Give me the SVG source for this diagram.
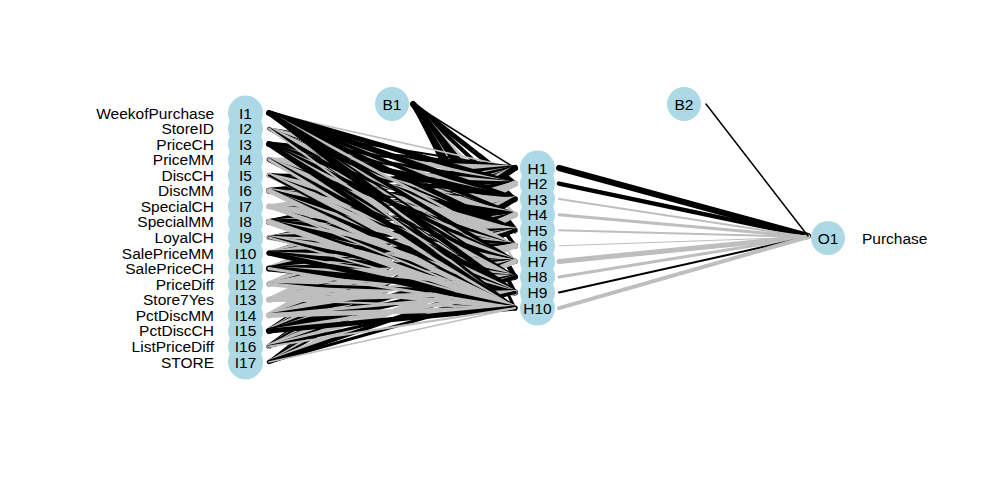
<svg xmlns="http://www.w3.org/2000/svg" width="983" height="495" viewBox="0 0 983 495">
<style>
.k{stroke:#000000;fill:none;stroke-linecap:round}
.g{stroke:#bebebe;fill:none;stroke-linecap:round}
.n{fill:#add8e6}
.t{font-family:"Liberation Sans",Arial,sans-serif;font-size:15.5px;fill:#000}
.r{text-anchor:end}
.m{text-anchor:middle}
</style>
<rect width="983" height="495" fill="#ffffff"/>
<g id="connectors">
<!-- B1 to hidden -->
<path class="k" stroke-width="1.5" d="M413 104L515 168"/>
<path class="k" stroke-width="5" d="M413 104L515 183.6"/>
<path class="k" stroke-width="4" d="M413 104L515 199.1"/>
<path class="g" stroke-width="3" d="M413 104L515 214.7"/>
<path class="k" stroke-width="6" d="M413 104L515 230.3"/>
<path class="k" stroke-width="4" d="M413 104L515 245.8"/>
<path class="g" stroke-width="2" d="M413 104L515 261.4"/>
<path class="k" stroke-width="5" d="M413 104L515 276.9"/>
<path class="k" stroke-width="4" d="M413 104L515 292.5"/>
<path class="k" stroke-width="3" d="M413 104L515 308.1"/>
<!-- to H1 -->
<path class="g" stroke-width="1.5" d="M269 113L515 168"/>
<path class="k" stroke-width="2" d="M269 128.6L515 168"/>
<path class="k" stroke-width="5" d="M269 144.1L515 168"/>
<path class="g" stroke-width="5" d="M269 159.7L515 168"/>
<path class="g" stroke-width="3" d="M269 175.3L515 168"/>
<path class="k" stroke-width="6" d="M269 190.8L515 168"/>
<path class="g" stroke-width="4" d="M269 206.4L515 168"/>
<path class="k" stroke-width="5" d="M269 221.9L515 168"/>
<path class="g" stroke-width="2" d="M269 237.5L515 168"/>
<path class="k" stroke-width="3" d="M269 253.1L515 168"/>
<path class="k" stroke-width="4" d="M269 268.6L515 168"/>
<path class="g" stroke-width="5" d="M269 284.2L515 168"/>
<path class="g" stroke-width="3" d="M269 299.8L515 168"/>
<path class="g" stroke-width="5" d="M269 315.3L515 168"/>
<path class="k" stroke-width="6" d="M269 330.9L515 168"/>
<path class="k" stroke-width="5" d="M269 346.4L515 168"/>
<path class="k" stroke-width="3" d="M269 362L515 168"/>
<!-- to H2 -->
<path class="k" stroke-width="5" d="M269 113L515 183.6"/>
<path class="g" stroke-width="3" d="M269 128.6L515 183.6"/>
<path class="k" stroke-width="4" d="M269 144.1L515 183.6"/>
<path class="g" stroke-width="4" d="M269 159.7L515 183.6"/>
<path class="k" stroke-width="4" d="M269 175.3L515 183.6"/>
<path class="k" stroke-width="5" d="M269 190.8L515 183.6"/>
<path class="g" stroke-width="3" d="M269 206.4L515 183.6"/>
<path class="k" stroke-width="6" d="M269 221.9L515 183.6"/>
<path class="k" stroke-width="3" d="M269 237.5L515 183.6"/>
<path class="g" stroke-width="5" d="M269 253.1L515 183.6"/>
<path class="g" stroke-width="6" d="M269 268.6L515 183.6"/>
<path class="g" stroke-width="3" d="M269 284.2L515 183.6"/>
<path class="g" stroke-width="5" d="M269 299.8L515 183.6"/>
<path class="g" stroke-width="6" d="M269 315.3L515 183.6"/>
<path class="g" stroke-width="5" d="M269 330.9L515 183.6"/>
<path class="g" stroke-width="4" d="M269 346.4L515 183.6"/>
<path class="g" stroke-width="2" d="M269 362L515 183.6"/>
<!-- to H3 -->
<path class="k" stroke-width="6" d="M269 113L515 199.1"/>
<path class="g" stroke-width="2" d="M269 128.6L515 199.1"/>
<path class="k" stroke-width="6" d="M269 144.1L515 199.1"/>
<path class="k" stroke-width="2" d="M269 159.7L515 199.1"/>
<path class="g" stroke-width="2" d="M269 175.3L515 199.1"/>
<path class="g" stroke-width="3" d="M269 190.8L515 199.1"/>
<path class="g" stroke-width="5" d="M269 206.4L515 199.1"/>
<path class="g" stroke-width="4" d="M269 221.9L515 199.1"/>
<path class="g" stroke-width="4" d="M269 237.5L515 199.1"/>
<path class="k" stroke-width="2" d="M269 253.1L515 199.1"/>
<path class="g" stroke-width="3" d="M269 268.6L515 199.1"/>
<path class="g" stroke-width="6" d="M269 284.2L515 199.1"/>
<path class="g" stroke-width="4" d="M269 299.8L515 199.1"/>
<path class="g" stroke-width="4" d="M269 315.3L515 199.1"/>
<path class="k" stroke-width="5" d="M269 330.9L515 199.1"/>
<path class="k" stroke-width="5" d="M269 346.4L515 199.1"/>
<path class="k" stroke-width="4" d="M269 362L515 199.1"/>
<!-- to H4 -->
<path class="k" stroke-width="4" d="M269 113L515 214.7"/>
<path class="k" stroke-width="1" d="M269 128.6L515 214.7"/>
<path class="g" stroke-width="3" d="M269 144.1L515 214.7"/>
<path class="g" stroke-width="6" d="M269 159.7L515 214.7"/>
<path class="k" stroke-width="5" d="M269 175.3L515 214.7"/>
<path class="k" stroke-width="4" d="M269 190.8L515 214.7"/>
<path class="k" stroke-width="2" d="M269 206.4L515 214.7"/>
<path class="k" stroke-width="5" d="M269 221.9L515 214.7"/>
<path class="g" stroke-width="2" d="M269 237.5L515 214.7"/>
<path class="g" stroke-width="4" d="M269 253.1L515 214.7"/>
<path class="k" stroke-width="5" d="M269 268.6L515 214.7"/>
<path class="k" stroke-width="2" d="M269 284.2L515 214.7"/>
<path class="g" stroke-width="3" d="M269 299.8L515 214.7"/>
<path class="g" stroke-width="5" d="M269 315.3L515 214.7"/>
<path class="g" stroke-width="6" d="M269 330.9L515 214.7"/>
<path class="g" stroke-width="3" d="M269 346.4L515 214.7"/>
<path class="g" stroke-width="3" d="M269 362L515 214.7"/>
<!-- to H5 -->
<path class="k" stroke-width="5" d="M269 113L515 230.3"/>
<path class="k" stroke-width="2" d="M269 128.6L515 230.3"/>
<path class="k" stroke-width="5" d="M269 144.1L515 230.3"/>
<path class="g" stroke-width="3" d="M269 159.7L515 230.3"/>
<path class="g" stroke-width="4" d="M269 175.3L515 230.3"/>
<path class="g" stroke-width="6" d="M269 190.8L515 230.3"/>
<path class="g" stroke-width="4" d="M269 206.4L515 230.3"/>
<path class="g" stroke-width="3" d="M269 221.9L515 230.3"/>
<path class="k" stroke-width="5" d="M269 237.5L515 230.3"/>
<path class="g" stroke-width="3" d="M269 253.1L515 230.3"/>
<path class="k" stroke-width="4" d="M269 268.6L515 230.3"/>
<path class="g" stroke-width="4" d="M269 284.2L515 230.3"/>
<path class="k" stroke-width="2" d="M269 299.8L515 230.3"/>
<path class="k" stroke-width="3" d="M269 315.3L515 230.3"/>
<path class="k" stroke-width="4" d="M269 330.9L515 230.3"/>
<path class="k" stroke-width="3" d="M269 346.4L515 230.3"/>
<path class="k" stroke-width="2" d="M269 362L515 230.3"/>
<!-- to H6 -->
<path class="g" stroke-width="3" d="M269 113L515 245.8"/>
<path class="g" stroke-width="4" d="M269 128.6L515 245.8"/>
<path class="g" stroke-width="2" d="M269 144.1L515 245.8"/>
<path class="k" stroke-width="3" d="M269 159.7L515 245.8"/>
<path class="g" stroke-width="3" d="M269 175.3L515 245.8"/>
<path class="k" stroke-width="3" d="M269 190.8L515 245.8"/>
<path class="g" stroke-width="6" d="M269 206.4L515 245.8"/>
<path class="k" stroke-width="6" d="M269 221.9L515 245.8"/>
<path class="g" stroke-width="3" d="M269 237.5L515 245.8"/>
<path class="k" stroke-width="5" d="M269 253.1L515 245.8"/>
<path class="g" stroke-width="3" d="M269 268.6L515 245.8"/>
<path class="g" stroke-width="5" d="M269 284.2L515 245.8"/>
<path class="g" stroke-width="6" d="M269 299.8L515 245.8"/>
<path class="g" stroke-width="5" d="M269 315.3L515 245.8"/>
<path class="g" stroke-width="3" d="M269 330.9L515 245.8"/>
<path class="g" stroke-width="5" d="M269 346.4L515 245.8"/>
<path class="g" stroke-width="1" d="M269 362L515 245.8"/>
<!-- to H7 -->
<path class="k" stroke-width="4" d="M269 113L515 261.4"/>
<path class="g" stroke-width="1" d="M269 128.6L515 261.4"/>
<path class="k" stroke-width="4" d="M269 144.1L515 261.4"/>
<path class="g" stroke-width="5" d="M269 159.7L515 261.4"/>
<path class="k" stroke-width="2" d="M269 175.3L515 261.4"/>
<path class="k" stroke-width="5" d="M269 190.8L515 261.4"/>
<path class="g" stroke-width="3" d="M269 206.4L515 261.4"/>
<path class="g" stroke-width="4" d="M269 221.9L515 261.4"/>
<path class="k" stroke-width="2" d="M269 237.5L515 261.4"/>
<path class="g" stroke-width="3" d="M269 253.1L515 261.4"/>
<path class="k" stroke-width="5" d="M269 268.6L515 261.4"/>
<path class="g" stroke-width="3" d="M269 284.2L515 261.4"/>
<path class="g" stroke-width="4" d="M269 299.8L515 261.4"/>
<path class="g" stroke-width="6" d="M269 315.3L515 261.4"/>
<path class="k" stroke-width="5" d="M269 330.9L515 261.4"/>
<path class="k" stroke-width="2" d="M269 346.4L515 261.4"/>
<path class="g" stroke-width="5" d="M269 362L515 261.4"/>
<!-- to H8 -->
<path class="k" stroke-width="2" d="M269 113L515 276.9"/>
<path class="k" stroke-width="3" d="M269 128.6L515 276.9"/>
<path class="g" stroke-width="2" d="M269 144.1L515 276.9"/>
<path class="g" stroke-width="2" d="M269 159.7L515 276.9"/>
<path class="g" stroke-width="3" d="M269 175.3L515 276.9"/>
<path class="g" stroke-width="2" d="M269 190.8L515 276.9"/>
<path class="k" stroke-width="1" d="M269 206.4L515 276.9"/>
<path class="k" stroke-width="5" d="M269 221.9L515 276.9"/>
<path class="g" stroke-width="5" d="M269 237.5L515 276.9"/>
<path class="k" stroke-width="4" d="M269 253.1L515 276.9"/>
<path class="g" stroke-width="4" d="M269 268.6L515 276.9"/>
<path class="g" stroke-width="2" d="M269 284.2L515 276.9"/>
<path class="g" stroke-width="3" d="M269 299.8L515 276.9"/>
<path class="k" stroke-width="4" d="M269 315.3L515 276.9"/>
<path class="k" stroke-width="6" d="M269 330.9L515 276.9"/>
<path class="g" stroke-width="4" d="M269 346.4L515 276.9"/>
<path class="k" stroke-width="4" d="M269 362L515 276.9"/>
<!-- to H9 -->
<path class="k" stroke-width="5" d="M269 113L515 292.5"/>
<path class="k" stroke-width="1" d="M269 128.6L515 292.5"/>
<path class="k" stroke-width="3" d="M269 144.1L515 292.5"/>
<path class="k" stroke-width="4" d="M269 159.7L515 292.5"/>
<path class="g" stroke-width="5" d="M269 175.3L515 292.5"/>
<path class="k" stroke-width="4" d="M269 190.8L515 292.5"/>
<path class="g" stroke-width="4" d="M269 206.4L515 292.5"/>
<path class="k" stroke-width="3" d="M269 221.9L515 292.5"/>
<path class="k" stroke-width="3" d="M269 237.5L515 292.5"/>
<path class="g" stroke-width="2" d="M269 253.1L515 292.5"/>
<path class="k" stroke-width="6" d="M269 268.6L515 292.5"/>
<path class="k" stroke-width="3" d="M269 284.2L515 292.5"/>
<path class="g" stroke-width="5" d="M269 299.8L515 292.5"/>
<path class="g" stroke-width="3" d="M269 315.3L515 292.5"/>
<path class="g" stroke-width="4" d="M269 330.9L515 292.5"/>
<path class="k" stroke-width="3" d="M269 346.4L515 292.5"/>
<path class="k" stroke-width="3" d="M269 362L515 292.5"/>
<!-- to H10 -->
<path class="k" stroke-width="3" d="M269 113L515 308.1"/>
<path class="g" stroke-width="2" d="M269 128.6L515 308.1"/>
<path class="k" stroke-width="5" d="M269 144.1L515 308.1"/>
<path class="g" stroke-width="3" d="M269 159.7L515 308.1"/>
<path class="k" stroke-width="2" d="M269 175.3L515 308.1"/>
<path class="g" stroke-width="5" d="M269 190.8L515 308.1"/>
<path class="g" stroke-width="2" d="M269 206.4L515 308.1"/>
<path class="g" stroke-width="6" d="M269 221.9L515 308.1"/>
<path class="g" stroke-width="2" d="M269 237.5L515 308.1"/>
<path class="k" stroke-width="5" d="M269 253.1L515 308.1"/>
<path class="g" stroke-width="3" d="M269 268.6L515 308.1"/>
<path class="g" stroke-width="4" d="M269 284.2L515 308.1"/>
<path class="g" stroke-width="2" d="M269 299.8L515 308.1"/>
<path class="g" stroke-width="5" d="M269 315.3L515 308.1"/>
<path class="k" stroke-width="5" d="M269 330.9L515 308.1"/>
<path class="g" stroke-width="2" d="M269 346.4L515 308.1"/>
<path class="g" stroke-width="1.5" d="M269 362L515 308.1"/>
<!-- hidden to output -->
<path class="k" stroke-width="6" d="M559 168L808 236"/>
<path class="k" stroke-width="4.5" d="M559 183.6L808 236"/>
<path class="g" stroke-width="2" d="M559 199.1L808 237"/>
<path class="g" stroke-width="3" d="M559 214.7L808 237"/>
<path class="g" stroke-width="2" d="M559 230.3L808 237"/>
<path class="g" stroke-width="1" d="M559 245.8L808 237"/>
<path class="g" stroke-width="5" d="M559 261.4L808 237"/>
<path class="g" stroke-width="3" d="M559 276.9L808 237"/>
<path class="k" stroke-width="2" d="M559 292.5L808 237"/>
<path class="g" stroke-width="4" d="M559 308.1L808 237"/>
<!-- B2 to output -->
<path class="k" stroke-width="1.5" d="M706 104L808 236"/>
</g>
<g id="I1"><circle class="n" cx="245.5" cy="113" r="17.5"/></g>
<g id="I2"><circle class="n" cx="245.5" cy="128.6" r="17.5"/></g>
<g id="I3"><circle class="n" cx="245.5" cy="144.1" r="17.5"/></g>
<g id="I4"><circle class="n" cx="245.5" cy="159.7" r="17.5"/></g>
<g id="I5"><circle class="n" cx="245.5" cy="175.3" r="17.5"/></g>
<g id="I6"><circle class="n" cx="245.5" cy="190.8" r="17.5"/></g>
<g id="I7"><circle class="n" cx="245.5" cy="206.4" r="17.5"/></g>
<g id="I8"><circle class="n" cx="245.5" cy="221.9" r="17.5"/></g>
<g id="I9"><circle class="n" cx="245.5" cy="237.5" r="17.5"/></g>
<g id="I10"><circle class="n" cx="245.5" cy="253.1" r="17.5"/></g>
<g id="I11"><circle class="n" cx="245.5" cy="268.6" r="17.5"/></g>
<g id="I12"><circle class="n" cx="245.5" cy="284.2" r="17.5"/></g>
<g id="I13"><circle class="n" cx="245.5" cy="299.8" r="17.5"/></g>
<g id="I14"><circle class="n" cx="245.5" cy="315.3" r="17.5"/></g>
<g id="I15"><circle class="n" cx="245.5" cy="330.9" r="17.5"/></g>
<g id="I16"><circle class="n" cx="245.5" cy="346.4" r="17.5"/></g>
<g id="I17"><circle class="n" cx="245.5" cy="362" r="17.5"/></g>
<g id="H1"><circle class="n" cx="537.5" cy="168" r="17.5"/></g>
<g id="H2"><circle class="n" cx="537.5" cy="183.6" r="17.5"/></g>
<g id="H3"><circle class="n" cx="537.5" cy="199.1" r="17.5"/></g>
<g id="H4"><circle class="n" cx="537.5" cy="214.7" r="17.5"/></g>
<g id="H5"><circle class="n" cx="537.5" cy="230.3" r="17.5"/></g>
<g id="H6"><circle class="n" cx="537.5" cy="245.8" r="17.5"/></g>
<g id="H7"><circle class="n" cx="537.5" cy="261.4" r="17.5"/></g>
<g id="H8"><circle class="n" cx="537.5" cy="276.9" r="17.5"/></g>
<g id="H9"><circle class="n" cx="537.5" cy="292.5" r="17.5"/></g>
<g id="H10"><circle class="n" cx="537.5" cy="308.1" r="17.5"/></g>
<g id="B1"><circle class="n" cx="392" cy="104" r="17"/><text class="t m" x="392" y="109.5">B1</text></g>
<g id="B2"><circle class="n" cx="684" cy="104" r="17"/><text class="t m" x="684" y="109.5">B2</text></g>
<g id="O1"><circle class="n" cx="828" cy="238" r="17"/><text class="t m" x="828" y="243.5">O1</text></g>
<g id="node-labels">
<text class="t m" x="245.5" y="118.5">I1</text>
<text class="t m" x="245.5" y="134.1">I2</text>
<text class="t m" x="245.5" y="149.6">I3</text>
<text class="t m" x="245.5" y="165.2">I4</text>
<text class="t m" x="245.5" y="180.8">I5</text>
<text class="t m" x="245.5" y="196.3">I6</text>
<text class="t m" x="245.5" y="211.9">I7</text>
<text class="t m" x="245.5" y="227.4">I8</text>
<text class="t m" x="245.5" y="243">I9</text>
<text class="t m" x="245.5" y="258.6">I10</text>
<text class="t m" x="245.5" y="274.1">I11</text>
<text class="t m" x="245.5" y="289.7">I12</text>
<text class="t m" x="245.5" y="305.3">I13</text>
<text class="t m" x="245.5" y="320.8">I14</text>
<text class="t m" x="245.5" y="336.4">I15</text>
<text class="t m" x="245.5" y="351.9">I16</text>
<text class="t m" x="245.5" y="367.5">I17</text>
<text class="t m" x="537.5" y="173.5">H1</text>
<text class="t m" x="537.5" y="189.1">H2</text>
<text class="t m" x="537.5" y="204.6">H3</text>
<text class="t m" x="537.5" y="220.2">H4</text>
<text class="t m" x="537.5" y="235.8">H5</text>
<text class="t m" x="537.5" y="251.3">H6</text>
<text class="t m" x="537.5" y="266.9">H7</text>
<text class="t m" x="537.5" y="282.4">H8</text>
<text class="t m" x="537.5" y="298">H9</text>
<text class="t m" x="537.5" y="313.6">H10</text>
</g>
<g id="input-labels">
<text class="t r" x="214" y="118.5">WeekofPurchase</text>
<text class="t r" x="214" y="134.1">StoreID</text>
<text class="t r" x="214" y="149.6">PriceCH</text>
<text class="t r" x="214" y="165.2">PriceMM</text>
<text class="t r" x="214" y="180.8">DiscCH</text>
<text class="t r" x="214" y="196.3">DiscMM</text>
<text class="t r" x="214" y="211.9">SpecialCH</text>
<text class="t r" x="214" y="227.4">SpecialMM</text>
<text class="t r" x="214" y="243">LoyalCH</text>
<text class="t r" x="214" y="258.6">SalePriceMM</text>
<text class="t r" x="214" y="274.1">SalePriceCH</text>
<text class="t r" x="214" y="289.7">PriceDiff</text>
<text class="t r" x="214" y="305.3">Store7Yes</text>
<text class="t r" x="214" y="320.8">PctDiscMM</text>
<text class="t r" x="214" y="336.4">PctDiscCH</text>
<text class="t r" x="214" y="351.9">ListPriceDiff</text>
<text class="t r" x="214" y="367.5">STORE</text>
</g>
<g id="output-label"><text class="t" x="862" y="243.5">Purchase</text></g>
</svg>
